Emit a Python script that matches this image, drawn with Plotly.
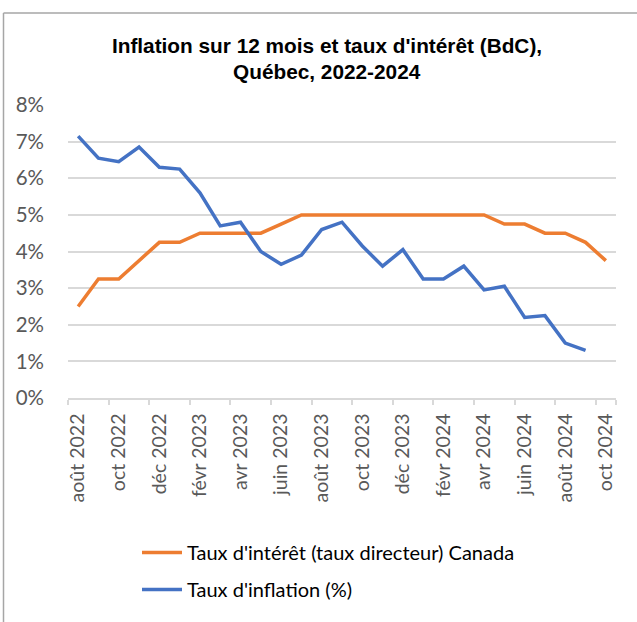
import plotly.graph_objects as go

months = ["août 2022", "sept 2022", "oct 2022", "nov 2022", "déc 2022", "janv 2023",
          "févr 2023", "mars 2023", "avr 2023", "mai 2023", "juin 2023", "juil 2023",
          "août 2023", "sept 2023", "oct 2023", "nov 2023", "déc 2023", "janv 2024",
          "févr 2024", "mars 2024", "avr 2024", "mai 2024", "juin 2024", "juil 2024",
          "août 2024", "sept 2024", "oct 2024"]

taux_interet = [2.5, 3.25, 3.25, 3.75, 4.25, 4.25, 4.5, 4.5, 4.5, 4.5, 4.75, 5.0,
                5.0, 5.0, 5.0, 5.0, 5.0, 5.0, 5.0, 5.0, 5.0, 4.75, 4.75, 4.5, 4.5, 4.25, 3.75]

taux_inflation = [7.15, 6.55, 6.45, 6.85, 6.3, 6.25, 5.6, 4.7, 4.8, 4.0, 3.65, 3.9,
                  4.6, 4.8, 4.15, 3.6, 4.05, 3.25, 3.25, 3.6, 2.95, 3.05, 2.2, 2.25,
                  1.5, 1.3, None]

y_ticks = [0, 1, 2, 3, 4, 5, 6, 7, 8]
y_ticktext = [f"{v}%" for v in y_ticks]

title_line1 = "Inflation sur 12 mois et taux d'intérêt (BdC),"
title_line2 = "Québec, 2022-2024"

idx = list(range(len(months)))
label_idx = idx[::2]
label_text = [months[i] for i in label_idx]
boundary_ticks = [i - 0.5 for i in label_idx] + [len(months) - 0.5]

FONT = "Lato, Carlito, Calibri, sans-serif"
TFONT = "Liberation Sans, Arial, sans-serif"
GRAY = "#595959"

fig = go.Figure()
fig.add_trace(go.Scatter(
    x=idx, y=taux_interet, mode="lines",
    name="Taux d'intérêt (taux directeur) Canada", legendgroup="a",
    line=dict(color="#ED7D31", width=3.5)))
fig.add_trace(go.Scatter(
    x=idx, y=taux_inflation, mode="lines",
    name="Taux d'inflation (%)", legendgroup="b",
    line=dict(color="#4472C4", width=3.5)))

L, R, T, B = 68, 21, 105, 224
W, H = 637, 622
pw = W - L - R
ph = H - T - B

def px(x):
    return (x - L) / pw

def py(y):
    return (H - B - y) / ph

fig.update_layout(
    width=W, height=H,
    margin=dict(l=L, r=R, t=T, b=B, autoexpand=False),
    paper_bgcolor="white", plot_bgcolor="white",
    title=dict(
        text="<b>" + title_line1 + "</b>",
        x=327 / W, xanchor="center", y=1 - 46 / H, yanchor="middle",
        font=dict(family=TFONT, size=20.8, color="black")),
    annotations=[dict(
        text="<b>" + title_line2 + "</b>", xref="paper", yref="paper",
        x=px(327), y=py(71), xanchor="center", yanchor="middle", showarrow=False,
        font=dict(family=TFONT, size=20.8, color="black"))],
    xaxis=dict(
        range=[-0.5, len(months) - 0.5],
        tickmode="array", tickvals=label_idx, ticktext=label_text,
        ticks="", tickangle=-90, ticklabelstandoff=6,
        tickfont=dict(family=FONT, size=19.5, color=GRAY),
        showgrid=False, zeroline=False,
        showline=True, linecolor="#D9D9D9", linewidth=1.5,
        minor=dict(tickmode="array", tickvals=boundary_ticks, ticks="outside",
                   ticklen=5, tickcolor="#D9D9D9", tickwidth=1.5, showgrid=False),
        fixedrange=True),
    yaxis=dict(
        range=[0, 8], tickmode="array", tickvals=y_ticks, ticktext=y_ticktext,
        tickfont=dict(family=FONT, size=20.5, color=GRAY),
        showgrid=True, gridcolor="#D9D9D9", gridwidth=1.5,
        zeroline=False, showline=False, ticks="", ticklabelstandoff=23,
        fixedrange=True),
    legend=dict(
        x=px(137), y=py(533), xanchor="left", yanchor="top",
        orientation="v", font=dict(family=FONT, size=20, color="black"),
        tracegroupgap=8, itemwidth=40, bgcolor="rgba(0,0,0,0)"),
    showlegend=True,
    shapes=[
        dict(type="line", xref="paper", yref="paper",
             x0=px(3.5), x1=px(640), y0=py(13), y1=py(13),
             line=dict(color="#A6A6A6", width=1.5)),
        dict(type="line", xref="paper", yref="paper",
             x0=px(3.5), x1=px(3.5), y0=py(13), y1=py(630),
             line=dict(color="#A6A6A6", width=1.5)),
    ],
)

fig.write_html("out.html", config={"displayModeBar": False},
               post_script="document.body.style.margin='0';")
